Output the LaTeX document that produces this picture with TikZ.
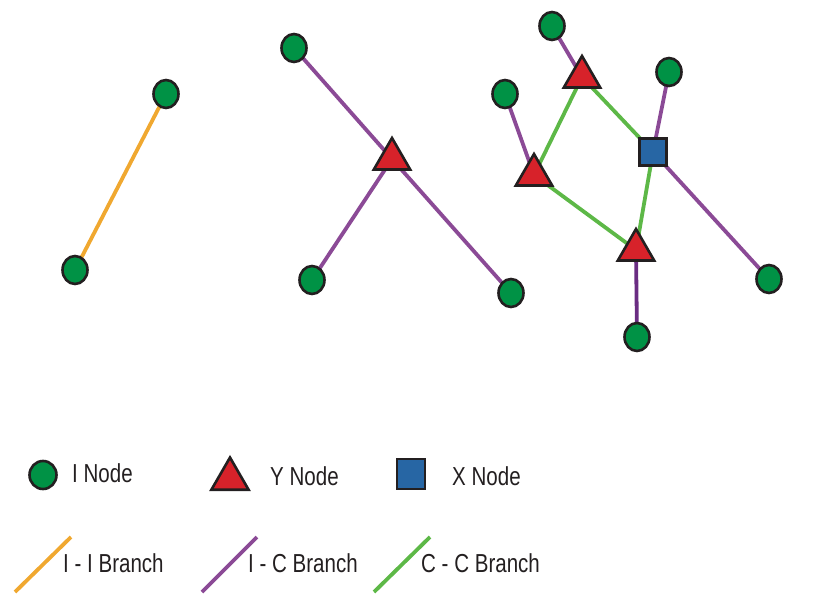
\documentclass[tikz,border=0pt]{standalone}
\usepackage{fontspec}
\setmainfont{Liberation Sans}
\newfontfamily\legfont[FakeStretch=0.79]{Liberation Sans}
\usetikzlibrary{shapes.geometric}
\pgfdeclarelayer{branches}
\pgfsetlayers{branches,main}
\definecolor{inodeg}{HTML}{009245}
\definecolor{ynoder}{HTML}{D7222A}
\definecolor{xnodeb}{HTML}{2766A4}
\definecolor{outl}{HTML}{231F20}
\definecolor{iibr}{HTML}{F0A830}
\definecolor{icbr}{HTML}{8B4A96}
\definecolor{icbrdark}{HTML}{6A2C82}
\definecolor{ccbr}{HTML}{5DB847}
\tikzset{
  inode/.style={ellipse, draw=outl, fill=inodeg, line width=2.6pt, minimum width=25pt, minimum height=28pt, inner sep=0pt},
  ynode/.style={regular polygon, regular polygon sides=3, draw=outl, fill=ynoder, line width=2.6pt, minimum size=42pt, inner sep=0pt},
  xnode/.style={rectangle, draw=outl, fill=xnodeb, line width=2.6pt, minimum size=27.5pt, inner sep=0pt},
  iib/.style={draw=iibr, line width=3.8pt},
  icb/.style={draw=icbr, line width=3.8pt},
  icbd/.style={draw=icbrdark, line width=3.8pt},
  ccb/.style={draw=ccbr, line width=3.8pt},
  legtext/.style={anchor=west, inner sep=0pt, font=\legfont\fontsize{26}{30}\selectfont, text=outl}
}
\begin{document}
\begin{tikzpicture}[x=1pt, y=-1pt]
\useasboundingbox (0,0) rectangle (822,607);

% left graph: a single I-I branch
\node[inode] (a1) at (166,94) {};
\node[inode] (a2) at (75,270) {};

% middle graph: one Y node with three I nodes
\node[inode] (b1) at (294,48) {};
\node[ynode] (b0) at (392,159) {};
\node[inode] (b2) at (312,280) {};
\node[inode] (b3) at (511,293) {};

% right graph
\node[inode] (c1) at (552,26) {};
\node[ynode] (ct) at (582,77) {};
\node[inode] (c2) at (505,94) {};
\node[inode] (c3) at (669,72) {};
\node[xnode] (cx) at (653,152) {};
\node[ynode] (cl) at (534,175) {};
\node[ynode] (cb) at (636,250) {};
\node[inode] (c4) at (769,279) {};
\node[inode] (c5) at (637,337) {};

% branches, kept beneath the nodes
\begin{pgfonlayer}{branches}
\draw[iib] (a1.center) -- (a2.center);
\draw[icb] (b1.center) -- (b0.center);
\draw[icb] (b0.center) -- (b2.center);
\draw[icb] (b0.center) -- (b3.center);
\draw[icb] (c1.center) -- (ct.center);
\draw[ccb] (ct.center) -- (cl.center);
\draw[ccb] (ct.center) -- (cx.center);
\draw[icb] (c2.center) -- (cl.center);
\draw[icb] (c3.center) -- (cx.center);
\draw[icb] (cx.center) -- (c4.center);
\draw[ccb] (cx.center) -- (cb.center);
\draw[ccb] (cl.center) -- (cb.center);
\draw[icbd] (cb.center) -- (c5.center);
\end{pgfonlayer}

% legend: node kinds
\node[inode, minimum width=27pt, minimum height=28pt] (li) at (43,475) {};
\node[legtext] (lit) at (72,473) {I Node};
\node[ynode, minimum size=43pt] (ly) at (230,479) {};
\node[legtext] (lyt) at (270,476) {Y Node};
\node[xnode, minimum width=28pt, minimum height=30pt] (lx) at (411,474) {};
\node[legtext] (lxt) at (452,476) {X Node};

% legend: branch kinds
\coordinate (l1a) at (15,592); \coordinate (l1b) at (71,537);
\coordinate (l2a) at (202,592); \coordinate (l2b) at (257,537);
\coordinate (l3a) at (374,592); \coordinate (l3b) at (430,537);
\draw[iib] (l1a) -- (l1b);
\draw[icb] (l2a) -- (l2b);
\draw[ccb] (l3a) -- (l3b);
\node[legtext] (l1t) at (63,563) {I - I Branch};
\node[legtext] (l2t) at (248,563) {I - C Branch};
\node[legtext] (l3t) at (421,563) {C - C Branch};
\end{tikzpicture}
\end{document}
